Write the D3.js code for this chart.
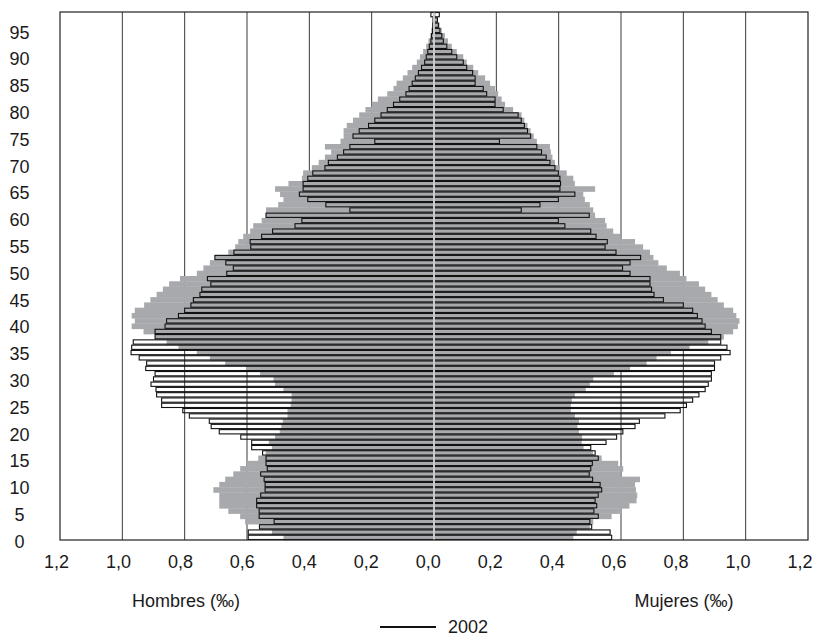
<!DOCTYPE html>
<html>
<head>
<meta charset="utf-8">
<script src="https://cdn.jsdelivr.net/npm/d3@7"></script>
<style>
  html, body { margin: 0; padding: 0; background: #fff; }
  svg { display: block; }
  text { font-family: "Liberation Sans", Arial, Helvetica, sans-serif; fill: #1a1a1a; }
</style>
</head>
<body>
<svg id="chart" width="815" height="640"></svg>
<script>
// Edades simples 0..99
const edades = d3.range(0, 100);

// Pirámide 2002 (‰), barras con contorno
const hombres2002 = [
  0.596,0.596,0.560,0.513,0.561,0.561,0.569,0.569,0.556,0.542,
  0.542,0.545,0.556,0.535,0.539,0.539,0.550,0.585,0.585,0.620,
  0.689,0.715,0.721,0.785,0.806,0.874,0.874,0.890,0.892,0.908,
  0.900,0.895,0.925,0.922,0.946,0.972,0.970,0.965,0.895,0.895,
  0.863,0.858,0.820,0.800,0.780,0.772,0.751,0.745,0.716,0.727,
  0.665,0.644,0.668,0.703,0.642,0.588,0.590,0.553,0.518,0.446,
  0.424,0.539,0.270,0.347,0.405,0.432,0.420,0.420,0.405,0.389,
  0.350,0.339,0.310,0.290,0.270,0.190,0.260,0.240,0.210,0.190,
  0.170,0.150,0.130,0.110,0.090,0.080,0.070,0.060,0.050,0.040,
  0.030,0.025,0.020,0.015,0.010,0.008,0.005,0.004,0.003,0.010
];
const mujeres2002 = [
  0.570,0.565,0.506,0.500,0.527,0.513,0.522,0.517,0.527,0.538,
  0.533,0.509,0.498,0.503,0.508,0.527,0.517,0.503,0.552,0.586,
  0.606,0.645,0.659,0.741,0.790,0.810,0.830,0.850,0.870,0.880,
  0.890,0.890,0.900,0.900,0.920,0.950,0.940,0.920,0.920,0.890,
  0.870,0.860,0.845,0.830,0.800,0.736,0.706,0.698,0.693,0.693,
  0.629,0.605,0.629,0.663,0.584,0.549,0.556,0.520,0.503,0.420,
  0.399,0.498,0.280,0.340,0.399,0.452,0.404,0.406,0.404,0.399,
  0.388,0.372,0.360,0.345,0.330,0.210,0.310,0.300,0.290,0.280,
  0.270,0.222,0.196,0.196,0.169,0.158,0.132,0.132,0.124,0.105,
  0.094,0.073,0.057,0.041,0.030,0.025,0.019,0.014,0.011,0.017
];

// Pirámide de comparación (‰), área gris
const hombresComp = [
  0.483,0.520,0.558,0.606,0.622,0.660,0.689,0.689,0.689,0.708,
  0.689,0.670,0.644,0.622,0.600,0.564,0.540,0.520,0.530,0.510,
  0.495,0.490,0.485,0.470,0.470,0.460,0.457,0.457,0.483,0.510,
  0.515,0.558,0.601,0.670,0.719,0.761,0.820,0.858,0.895,0.932,
  0.970,0.960,0.970,0.960,0.930,0.910,0.890,0.870,0.850,0.815,
  0.761,0.740,0.719,0.703,0.660,0.638,0.628,0.612,0.590,0.580,
  0.553,0.539,0.539,0.500,0.483,0.494,0.510,0.467,0.424,0.420,
  0.392,0.370,0.350,0.330,0.350,0.300,0.290,0.290,0.280,0.260,
  0.240,0.220,0.200,0.180,0.150,0.130,0.120,0.100,0.085,0.070,
  0.055,0.045,0.035,0.025,0.018,0.012,0.008,0.005,0.004,0.003
];
const mujeresComp = [
  0.447,0.458,0.500,0.511,0.570,0.602,0.627,0.650,0.652,0.648,
  0.645,0.661,0.597,0.607,0.591,0.538,0.510,0.480,0.474,0.475,
  0.465,0.460,0.465,0.452,0.439,0.439,0.442,0.452,0.487,0.500,
  0.511,0.577,0.629,0.682,0.714,0.760,0.820,0.880,0.930,0.960,
  0.975,0.980,0.970,0.960,0.930,0.910,0.890,0.870,0.850,0.810,
  0.789,0.747,0.720,0.704,0.693,0.671,0.645,0.597,0.575,0.554,
  0.549,0.517,0.511,0.500,0.484,0.479,0.517,0.452,0.447,0.426,
  0.404,0.388,0.380,0.375,0.372,0.330,0.320,0.310,0.300,0.290,
  0.281,0.254,0.228,0.217,0.206,0.196,0.180,0.164,0.142,0.126,
  0.105,0.094,0.073,0.057,0.045,0.035,0.025,0.018,0.010,0.005
];

// Etiquetas de los ejes
const ticksX = [-1.2,-1.0,-0.8,-0.6,-0.4,-0.2,0,0.2,0.4,0.6,0.8,1.0,1.2];
const ticksEdad = d3.range(0, 100, 5);
const rotuloHombres = "Hombres (‰)";
const rotuloMujeres = "Mujeres (‰)";
const leyenda = "2002";

const svg = d3.select("#chart");
const FUENTE = "18px";

// Escalas: hombres a la izquierda (valores negativos), mujeres a la derecha
const x = d3.scaleLinear().domain([-1.2, 1.2]).range([60, 808]);
const y = d3.scaleLinear().domain([0, 100]).range([540, 12]);
const xEtiq = d3.scaleLinear().domain([-1.2, 1.2]).range([56, 799.5]);
const yEtiq = d3.scaleLinear().domain([0, 95]).range([540.7, 31.7]);

const GRIS = "#a7a9ac";

// Líneas de rejilla verticales
svg.append("g")
  .selectAll("line")
  .data(ticksX.filter(d => d !== 0 && Math.abs(d) < 1.2))
  .join("line")
  .attr("x1", d => x(d)).attr("x2", d => x(d))
  .attr("y1", y(100)).attr("y2", y(0))
  .attr("stroke", "#3a3a3a").attr("stroke-width", 1);

// Área gris de comparación
const gComp = svg.append("g");
gComp.selectAll("rect.h")
  .data(edades)
  .join("rect")
  .attr("class", "h")
  .attr("x", i => x(-hombresComp[i]))
  .attr("width", i => x(0) - x(-hombresComp[i]))
  .attr("y", i => y(i + 1))
  .attr("height", i => y(i) - y(i + 1) + 0.3)
  .attr("fill", GRIS);
gComp.selectAll("rect.m")
  .data(edades)
  .join("rect")
  .attr("class", "m")
  .attr("x", x(0))
  .attr("width", i => x(mujeresComp[i]) - x(0))
  .attr("y", i => y(i + 1))
  .attr("height", i => y(i) - y(i + 1) + 0.3)
  .attr("fill", GRIS);

// Barras 2002 (solo contorno)
const g02 = svg.append("g").attr("fill", "none").attr("stroke", "#111").attr("stroke-width", 1.1);
g02.selectAll("rect.h")
  .data(edades)
  .join("rect")
  .attr("class", "h")
  .attr("x", i => x(-hombres2002[i]))
  .attr("width", i => x(0) - x(-hombres2002[i]))
  .attr("y", i => y(i + 1) + 0.5)
  .attr("height", i => y(i) - y(i + 1) - 1);
g02.selectAll("rect.m")
  .data(edades)
  .join("rect")
  .attr("class", "m")
  .attr("x", x(0))
  .attr("width", i => x(mujeres2002[i]) - x(0))
  .attr("y", i => y(i + 1) + 0.5)
  .attr("height", i => y(i) - y(i + 1) - 1);

// Eje central blanco
svg.append("line")
  .attr("x1", x(0)).attr("x2", x(0))
  .attr("y1", y(100)).attr("y2", y(0))
  .attr("stroke", "#f4f4f4").attr("stroke-width", 1.6);

// Marco
svg.append("rect")
  .attr("x", x(-1.2)).attr("y", y(100))
  .attr("width", x(1.2) - x(-1.2)).attr("height", y(0) - y(100))
  .attr("fill", "none").attr("stroke", "#222").attr("stroke-width", 1.2);

// Etiquetas del eje X
const ejeX = svg.append("g")
  .attr("transform", "translate(0,556)")
  .call(d3.axisBottom(xEtiq)
    .tickValues(ticksX)
    .tickSize(0)
    .tickPadding(0)
    .tickFormat(d => Math.abs(d).toFixed(1).replace(".", ",")));
ejeX.select(".domain").remove();
ejeX.selectAll("text")
  .attr("dy", "0.32em").attr("y", 6)
  .style("font-size", FUENTE)
  .style("font-family", "'Liberation Sans', Arial, sans-serif")
  .attr("fill", "#1a1a1a");

// Etiquetas del eje de edades
const ejeY = svg.append("g")
  .attr("transform", "translate(19.5,0)")
  .call(d3.axisLeft(yEtiq).tickValues(ticksEdad).tickSize(0).tickPadding(0));
ejeY.select(".domain").remove();
ejeY.selectAll("text")
  .attr("x", 0)
  .attr("text-anchor", "middle")
  .attr("dy", "0.36em")
  .style("font-size", FUENTE)
  .style("font-family", "'Liberation Sans', Arial, sans-serif")
  .attr("fill", "#1a1a1a");

// Rótulos
svg.append("text")
  .attr("x", 186).attr("y", 601).attr("dy", "0.36em")
  .attr("text-anchor", "middle")
  .style("font-size", FUENTE)
  .text(rotuloHombres);
svg.append("text")
  .attr("x", 684).attr("y", 601).attr("dy", "0.36em")
  .attr("text-anchor", "middle")
  .style("font-size", FUENTE)
  .text(rotuloMujeres);

// Leyenda
svg.append("line")
  .attr("x1", 380).attr("x2", 436)
  .attr("y1", 627).attr("y2", 627)
  .attr("stroke", "#111").attr("stroke-width", 2);
svg.append("text")
  .attr("x", 448).attr("y", 627).attr("dy", "0.36em")
  .style("font-size", FUENTE)
  .text(leyenda);
</script>
</body>
</html>
